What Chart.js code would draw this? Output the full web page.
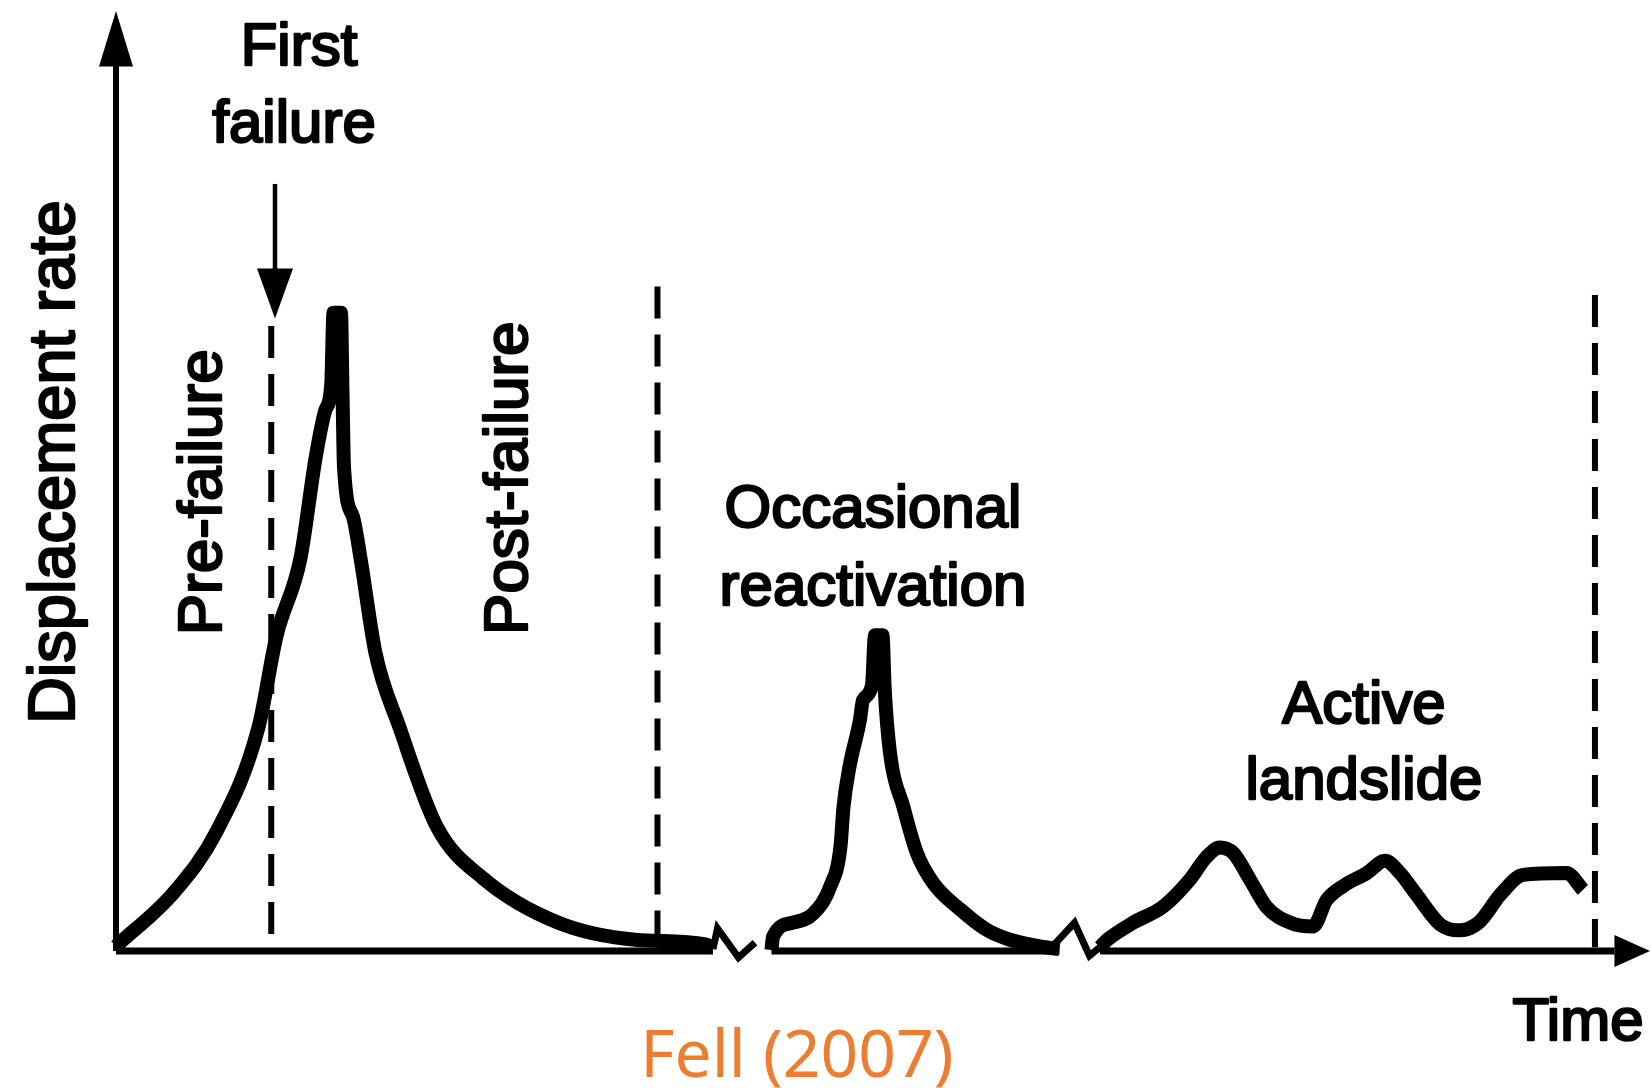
<!DOCTYPE html>
<html>
<head>
<meta charset="utf-8">
<script src="https://cdn.jsdelivr.net/npm/chart.js@4.4.0/dist/chart.umd.min.js"></script>
<style>
  html, body { margin: 0; padding: 0; background: #ffffff; }
  #wrap { width: 1651px; height: 1088px; }
</style>
</head>
<body>
<div id="wrap"><canvas id="fellChart" width="1651" height="1088"></canvas></div>
<script>
// schematic axes: time 0..100, displacement rate 0..100 (no units, it's a sketch)
const firstFailureT    = [0, 3.9, 6.7, 9.5, 10.7, 12.3, 13.3, 13.95, 14.35, 14.5, 15.0, 15.1, 15.2, 15.8, 16.3, 17.3, 18.9, 21.4, 24.5, 29.5, 34.6, 39.3, 39.8];
const firstFailureRate = [0.5, 6.3, 12.7, 23.8, 33.5, 41.8, 52.4, 57.5, 60.3, 67.9, 67.9, 59.5, 51.5, 46.2, 41.8, 31.7, 23.8, 13.2, 7.7, 3.0, 1.2, 0.7, 0.3];

const reactivationT    = [43.7, 43.8, 45.1, 46.5, 47.6, 48.3, 48.5, 48.9, 49.6, 49.8, 50.4, 50.6, 51.1, 51.25, 51.6, 52.5, 53.4, 54.5, 56.3, 58.1, 59.6, 61.6, 62.9];
const reactivationRate = [0.1, 1.5, 3.0, 4.0, 6.8, 11.1, 15.3, 19.6, 24.6, 26.7, 28.3, 33.6, 33.6, 27.8, 21.1, 15.3, 10.4, 7.2, 4.4, 2.2, 1.2, 0.5, 0.2];

const activeT    = [65.6, 66.1, 67.8, 69.8, 71.6, 72.7, 73.6, 74.5, 75.6, 76.7, 78.3, 79.8, 80.7, 81.9, 83.4, 84.6, 85.6, 86.7, 88.3, 89.6, 90.9, 92.3, 93.8, 96.7, 97.8];
const activeRate = [0.4, 1.2, 3.0, 4.7, 7.6, 10.0, 11.0, 10.4, 7.6, 4.7, 3.0, 2.6, 5.4, 7.0, 8.3, 9.6, 8.3, 6.0, 2.8, 2.2, 3.1, 6.0, 8.1, 8.3, 6.5];

// axis break marks (zigzags)
const breakOneT = [39.8, 40.1, 41.5, 42.6];
const breakOneRate = [0.2, 2.4, -0.7, 0.9];
const breakTwoT = [62.5, 63.9, 64.9, 65.6];
const breakTwoRate = [0.6, 3.0, -0.5, 0.4];

// time axis pieces between the breaks
const axisFrom = [0, 43.7, 65.6];
const axisTo   = [39.8, 62.9, 99.9];

// dashed stage boundaries
const dividerT   = [10.35, 36.1, 98.6];
const dividerTop = [66.5, 70.7, 69.8];

// annotation text
const labels = ['First', 'failure', 'Pre-failure', 'Post-failure', 'Occasional', 'reactivation', 'Active', 'landslide', 'Time', 'Displacement rate'];
const labelT    = [12.2, 11.87, 7.0, 27.4, 50.47, 50.47, 83.2, 83.2, 97.47, -2.8];
const labelRate = [94.3, 86.1, 48.8, 50.3, 45.1, 36.8, 24.3, 16.2, -9.5, 52.0];
const labelTurned = [false, false, true, true, false, false, false, false, false, true];
const sourceNote = 'Fell (2007)';

const pts = (t, r) => t.map((v, i) => ({ x: v, y: r[i] }));

const curve = (data) => ({
  data, borderColor: '#000', borderWidth: 14, pointRadius: 0,
  cubicInterpolationMode: 'monotone', borderJoinStyle: 'round', borderCapStyle: 'butt', clip: false
});
const thin = (data, w) => ({
  data, borderColor: '#000', borderWidth: w, pointRadius: 0, tension: 0, clip: false
});

const datasets = [
  curve(pts(firstFailureT, firstFailureRate)),
  curve(pts(reactivationT, reactivationRate)),
  curve(pts(activeT, activeRate)),
  thin(pts(breakOneT, breakOneRate), 7),
  thin(pts(breakTwoT, breakTwoRate), 7)
];
axisFrom.forEach((a, i) => datasets.push(thin([{ x: a, y: 0 }, { x: axisTo[i], y: 0 }], 7)));
datasets.push(thin([{ x: 0, y: 0 }, { x: 0, y: 95 }], 6));
dividerT.forEach((t, i) => {
  const d = thin([{ x: t, y: dividerTop[i] }, { x: t, y: 0.4 }], 6);
  d.borderDash = [32, 16];
  datasets.push(d);
});

const annotate = {
  id: 'annotate',
  beforeDraw(chart) {
    const ctx = chart.ctx;
    ctx.save();
    ctx.fillStyle = '#ffffff';
    ctx.fillRect(0, 0, chart.width, chart.height);
    ctx.restore();
  },
  afterDatasetsDraw(chart) {
    const { ctx, scales: { x, y } } = chart;
    ctx.save();
    ctx.fillStyle = '#000';
    ctx.strokeStyle = '#000';

    // arrow heads on the axes
    const x0 = x.getPixelForValue(0);
    ctx.beginPath();
    ctx.moveTo(x0, y.getPixelForValue(100));
    ctx.lineTo(x0 - 17, y.getPixelForValue(94.1));
    ctx.lineTo(x0 + 17, y.getPixelForValue(94.1));
    ctx.closePath();
    ctx.fill();

    const y0 = y.getPixelForValue(0);
    ctx.beginPath();
    ctx.moveTo(x.getPixelForValue(102.27), y0);
    ctx.lineTo(x.getPixelForValue(99.9), y0 - 16);
    ctx.lineTo(x.getPixelForValue(99.9), y0 + 16);
    ctx.closePath();
    ctx.fill();

    // first failure pointer
    const ax = x.getPixelForValue(10.6);
    ctx.lineWidth = 4.5;
    ctx.beginPath();
    ctx.moveTo(ax, y.getPixelForValue(81.6));
    ctx.lineTo(ax, y.getPixelForValue(72));
    ctx.stroke();
    ctx.beginPath();
    ctx.moveTo(ax, y.getPixelForValue(67.3));
    ctx.lineTo(ax - 18, y.getPixelForValue(72.6));
    ctx.lineTo(ax + 18, y.getPixelForValue(72.6));
    ctx.closePath();
    ctx.fill();

    // labels
    ctx.textAlign = 'center';
    ctx.textBaseline = 'alphabetic';
    ctx.lineWidth = 2.4;
    ctx.lineJoin = 'round';
    labels.forEach((txt, i) => {
      ctx.save();
      ctx.translate(x.getPixelForValue(labelT[i]), y.getPixelForValue(labelRate[i]));
      if (labelTurned[i]) ctx.rotate(-Math.PI / 2);
      ctx.font = (i === 9 ? '65px' : labelTurned[i] ? '62px' : '60px') + ' "Liberation Sans", Arial, sans-serif';
      ctx.fillText(txt, 0, 0);
      ctx.strokeText(txt, 0, 0);
      ctx.restore();
    });

    ctx.font = '66px "Noto Sans", sans-serif';
    ctx.fillStyle = '#ED7D31';
    ctx.fillText(sourceNote, x.getPixelForValue(45.4), y.getPixelForValue(-13.4));
    ctx.restore();
  }
};

new Chart(document.getElementById('fellChart').getContext('2d'), {
  type: 'line',
  data: { datasets },
  options: {
    responsive: false,
    animation: false,
    events: [],
    layout: { padding: { left: 86, right: 1, top: 11, bottom: 90 } },
    plugins: { legend: { display: false }, tooltip: { enabled: false } },
    scales: {
      x: { type: 'linear', min: -2, max: 102.27, display: false },
      y: { type: 'linear', min: -5, max: 100, display: false }
    }
  },
  plugins: [annotate]
});
</script>
</body>
</html>
